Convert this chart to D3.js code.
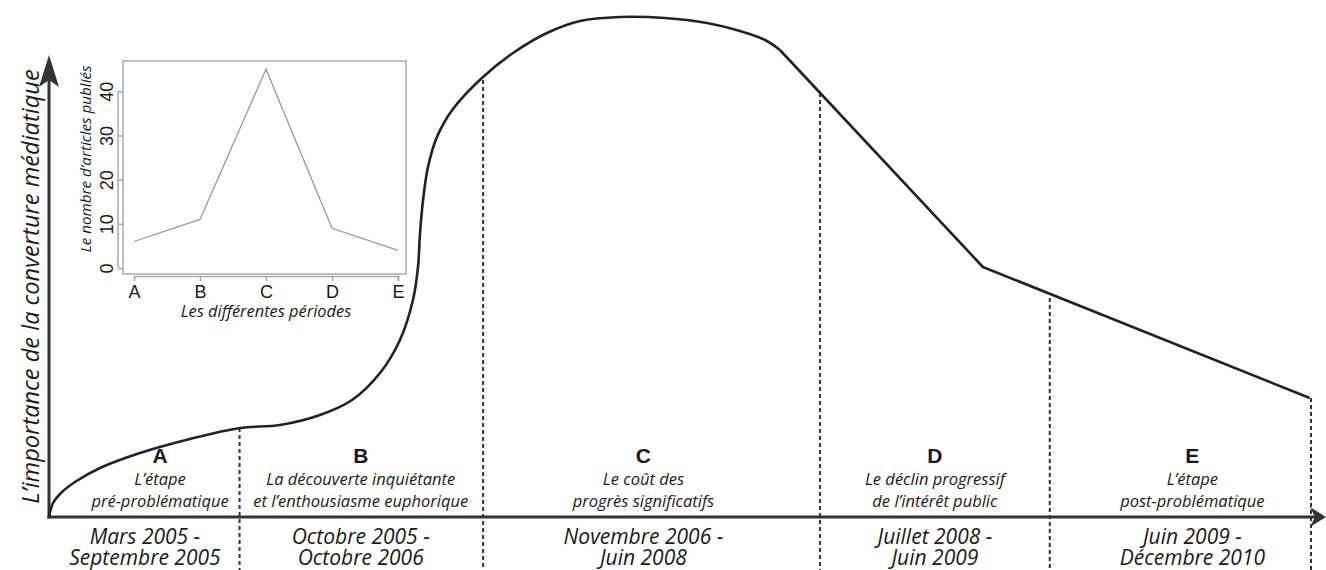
<!DOCTYPE html>
<html>
<head>
<meta charset="utf-8">
<script src="https://cdn.jsdelivr.net/npm/d3@7"></script>
<style>
  body { margin: 0; background: #fff; }
  svg { display: block; }
  .it { font-family: "Open Sans", sans-serif; font-style: italic; fill: #1a1a1a; }
  .sans { font-family: "Liberation Sans", Arial, sans-serif; fill: #1a1a1a; }
</style>
</head>
<body>
<script>
const width = 1326
const height = 570

// main curve (time progress 0-100, media importance 0-100), smooth part
const curveX = [0, 0.32, 1.03, 2.06, 4.04, 7.21, 11.17, 15.13, 18.3, 21.47, 24.01, 26.23, 27.81, 28.84, 29.24, 29.4, 29.64, 30.03, 30.74, 32.01, 34.39, 36.77, 39.46, 42.08, 45.25, 48.81, 52.14, 54.75, 56.74, 57.92]
const curveY = [0, 2.8, 5, 7, 9.8, 12.8, 15.6, 17.8, 18.4, 20.4, 23.4, 28.8, 35.4, 43.4, 50, 56.8, 63.4, 70, 76, 81.6, 88, 92.8, 96.8, 99.2, 100, 99.8, 98.8, 97.2, 95.4, 93.4]
// straight decline part
const declineX = [57.92, 74, 99.9]
const declineY = [93.4, 50, 23.8]

// period boundaries
const boundaryX = [15.1, 34.4, 61.1, 79.3, 100]
const boundaryTop = [17.8, 87.4, 84.8, 43.8, 23.8]

const periods = ["A", "B", "C", "D", "E"]
const periodCenter = [8.8, 24.7, 47.1, 70.2, 90.6]
const dateCenter = [7.6, 24.7, 47.1, 70.2, 90.6]
const periodDesc = [
  ["L\u2019étape", "pré-problématique"],
  ["La découverte inquiétante", "et l\u2019enthousiasme euphorique"],
  ["Le coût des", "progrès significatifs"],
  ["Le déclin progressif", "de l\u2019intérêt public"],
  ["L\u2019étape", "post-problématique"]
]
const periodDates = [
  ["Mars 2005 -", "Septembre 2005"],
  ["Octobre 2005 -", "Octobre 2006"],
  ["Novembre 2006 -", "Juin 2008"],
  ["Juillet 2008 -", "Juin 2009"],
  ["Juin 2009 -", "Décembre 2010"]
]

// inset: number of articles per period
const insetCats = ["A", "B", "C", "D", "E"]
const insetValues = [6, 11, 45, 9, 4]
const insetTicks = [0, 10, 20, 30, 40]

const svg = d3.select("body").append("svg")
  .attr("width", width)
  .attr("height", height)

const x = d3.scaleLinear().domain([0, 100]).range([49, 1311])
const y = d3.scaleLinear().domain([0, 100]).range([517, 17])

// dashed boundaries
svg.append("g")
    .attr("stroke", "#333")
    .attr("stroke-width", 2)
    .attr("stroke-dasharray", "4,3")
  .selectAll("line")
  .data(boundaryX)
  .join("line")
    .attr("x1", d => x(d)).attr("x2", d => x(d))
    .attr("y1", (d, i) => y(boundaryTop[i]))
    .attr("y2", height)

// axes
const axisTop = 55
const axisRight = 1326
svg.append("line")
  .attr("x1", x(0)).attr("x2", x(0))
  .attr("y1", y(0) + 1.5).attr("y2", axisTop + 20)
  .attr("stroke", "#333").attr("stroke-width", 3)
svg.append("line")
  .attr("x1", x(0) - 1.5).attr("x2", axisRight - 10)
  .attr("y1", y(0)).attr("y2", y(0))
  .attr("stroke", "#333").attr("stroke-width", 3)
svg.append("path")
  .attr("d", `M${x(0)},${axisTop} L${x(0) + 10},${axisTop + 32} L${x(0)},${axisTop + 25} L${x(0) - 10},${axisTop + 32} Z`)
  .attr("fill", "#333")
svg.append("path")
  .attr("d", `M${axisRight},${y(0)} L${axisRight - 16},${y(0) + 10} L${axisRight - 11},${y(0)} L${axisRight - 16},${y(0) - 10} Z`)
  .attr("fill", "#333")

// curve
const smooth = curveX.map((d, i) => [d, curveY[i]])
const decline = declineX.map((d, i) => [d, declineY[i]])

svg.append("path")
  .datum(smooth)
  .attr("fill", "none")
  .attr("stroke", "#222")
  .attr("stroke-width", 2.6)
  .attr("d", d3.line().x(d => x(d[0])).y(d => y(d[1])).curve(d3.curveCatmullRom.alpha(0.5)))

svg.append("path")
  .datum(decline)
  .attr("fill", "none")
  .attr("stroke", "#222")
  .attr("stroke-width", 2.6)
  .attr("stroke-linejoin", "round")
  .attr("d", d3.line().x(d => x(d[0])).y(d => y(d[1])))

// main y label
svg.append("text")
  .attr("class", "it")
  .attr("transform", `translate(39,${(70 + 503) / 2}) rotate(-90)`)
  .attr("text-anchor", "middle")
  .attr("font-size", 23.6)
  .text("L\u2019importance de la converture médiatique")

// period labels
const lab = svg.append("g").attr("text-anchor", "middle")
lab.selectAll(".letter")
  .data(periods)
  .join("text")
    .attr("class", "letter sans")
    .attr("x", (d, i) => x(periodCenter[i]))
    .attr("y", 463)
    .attr("font-size", 21)
    .attr("font-weight", "bold")
    .text(d => d)

// two-line labels as one text with tspans
function twoLines(lines, cx, y0, gap, size) {
  const t = lab.append("text")
    .attr("class", "it")
    .attr("font-size", size)
  lines.forEach((s, j) => {
    t.append("tspan")
      .attr("x", cx)
      .attr("y", y0 + j * gap)
      .text(s)
  })
}

periodDesc.forEach((lines, i) => twoLines(lines, x(periodCenter[i]), 485, 21.5, 16.5))
periodDates.forEach((lines, i) => twoLines(lines, x(dateCenter[i]), 544, 20.5, 21))

// inset chart
const ix = d3.scalePoint().domain(insetCats).range([134, 398])
const iy = d3.scaleLinear().domain([0, 40]).range([268, 91.3])

const inset = svg.append("g")

inset.append("rect")
  .attr("x", 123).attr("y", 61)
  .attr("width", 406 - 123).attr("height", 274 - 61)
  .attr("fill", "#fff")
  .attr("stroke", "#aaa")
  .attr("stroke-width", 1.5)

inset.append("path")
  .datum(insetValues)
  .attr("fill", "none")
  .attr("stroke", "#999")
  .attr("stroke-width", 1.3)
  .attr("d", d3.line().x((d, i) => ix(insetCats[i])).y(d => iy(d)))

const xAxisG = inset.append("g")
  .attr("transform", "translate(0,276)")
  .call(d3.axisBottom(ix).tickSize(5).tickPadding(4))
xAxisG.select(".domain").attr("stroke", "#aaa").attr("stroke-width", 1.5)
xAxisG.selectAll(".tick line").attr("stroke", "#aaa").attr("stroke-width", 1.5)
xAxisG.selectAll(".tick text")
  .attr("font-family", "Liberation Sans, Arial, sans-serif")
  .attr("font-size", 18)
  .attr("fill", "#1a1a1a")

const yAxisG = inset.append("g")
  .attr("transform", "translate(118,0)")
  .call(d3.axisLeft(iy).tickValues(insetTicks).tickSize(0).tickPadding(0))
yAxisG.select(".domain").remove()
yAxisG.append("line")
  .attr("y1", iy(0)).attr("y2", iy(40))
  .attr("stroke", "#aaa").attr("stroke-width", 1.5)
yAxisG.selectAll(".tick").append("line")
  .attr("x1", 0).attr("x2", 5)
  .attr("stroke", "#aaa").attr("stroke-width", 1.5)
yAxisG.selectAll(".tick text")
  .attr("x", null).attr("dy", null)
  .attr("transform", "translate(-5,0) rotate(-90)")
  .attr("text-anchor", "middle")
  .attr("font-family", "Liberation Sans, Arial, sans-serif")
  .attr("font-size", 18)
  .attr("fill", "#1a1a1a")

inset.append("text")
  .attr("class", "it")
  .attr("transform", `translate(91,${(65 + 253) / 2}) rotate(-90)`)
  .attr("text-anchor", "middle")
  .attr("font-size", 15.2)
  .text("Le nombre d\u2019articles publiés")

inset.append("text")
  .attr("class", "it")
  .attr("x", 266).attr("y", 317)
  .attr("text-anchor", "middle")
  .attr("font-size", 16.4)
  .text("Les différentes périodes")
</script>
</body>
</html>
